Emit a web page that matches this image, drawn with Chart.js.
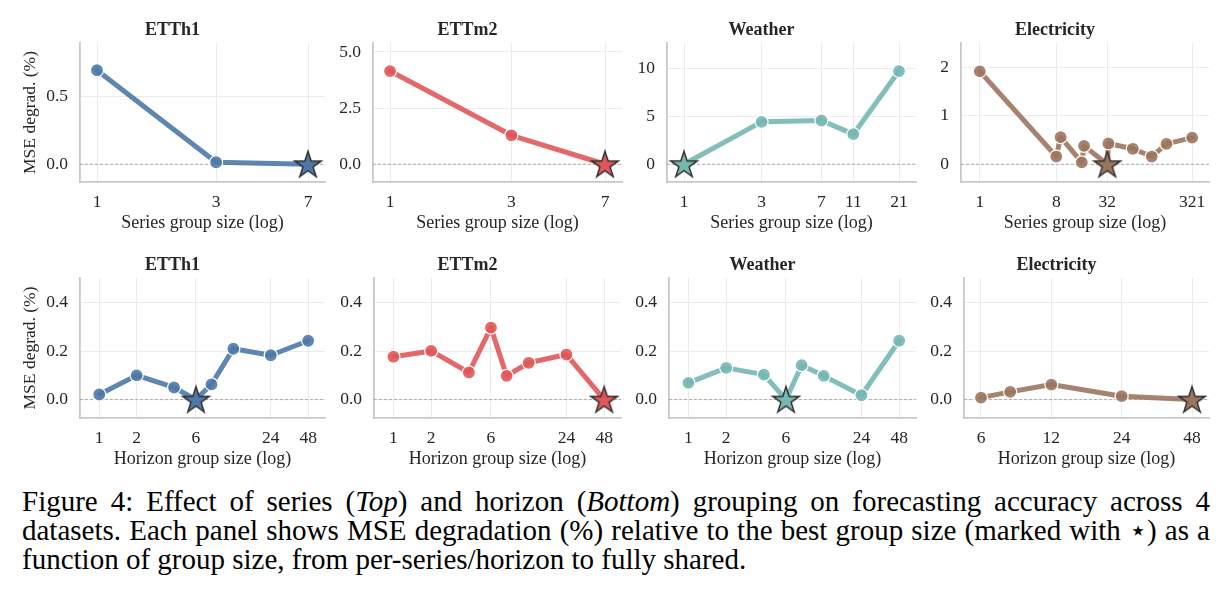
<!DOCTYPE html>
<html>
<head>
<meta charset="utf-8">
<script src="https://cdn.jsdelivr.net/npm/chart.js@4.4.1/dist/chart.umd.min.js"></script>
<style>
  body { margin: 0; background: #fff; width: 1231px; height: 601px; position: relative; overflow: hidden; font-family: "Liberation Serif", serif; }
  canvas { position: absolute; }
  #caption { position: absolute; left: 22px; top: 487px; width: 1188px; font-size: 29px; line-height: 29px; text-align: justify; color: #000; }
</style>
</head>
<body>
<div id="caption">Figure 4: Effect of series (<i>Top</i>) and horizon (<i>Bottom</i>) grouping on forecasting accuracy across 4 datasets. Each panel shows MSE degradation (%) relative to the best group size (marked with ⋆) as a function of group size, from per-series/horizon to fully shared.</div>
<script>
// top row: series group size vs MSE degradation (%)
const ettH1SeriesX = [1, 3, 7];
const ettH1SeriesY = [0.69, 0.015, 0];
const ettM2SeriesX = [1, 3, 7];
const ettM2SeriesY = [4.15, 1.29, 0];
const weatherSeriesX = [1, 3, 7, 11, 21];
const weatherSeriesY = [0, 4.44, 4.58, 3.15, 9.76];
const elecSeriesX = [1, 8, 9, 16, 17, 32, 33, 64, 107, 160, 321];
const elecSeriesY = [1.92, 0.16, 0.56, 0.04, 0.38, 0, 0.43, 0.32, 0.16, 0.42, 0.55];

// bottom row: horizon group size
const horizonX = [1, 2, 4, 6, 8, 12, 24, 48];
const ettH1HorizonY = [0.021, 0.10, 0.05, 0, 0.063, 0.21, 0.183, 0.243];
const ettM2HorizonY = [0.177, 0.201, 0.112, 0.297, 0.098, 0.152, 0.186, 0];
const weatherHorizonY = [0.069, 0.131, 0.103, 0, 0.142, 0.098, 0.018, 0.243];
const elecHorizonX = [6, 8, 12, 24, 48];
const elecHorizonY = [0.008, 0.032, 0.062, 0.014, 0];

// tick labels
const seriesTicksETT = [1, 3, 7];
const seriesTicksWeather = [1, 3, 7, 11, 21];
const seriesTicksElec = [1, 8, 32, 321];
const horizonTicks = [1, 2, 6, 24, 48];
const horizonTicksElec = [6, 12, 24, 48];
const yTicksETTh1 = [0, 0.5];
const yTicksETTm2 = [0, 2.5, 5];
const yTicksWeather = [0, 5, 10];
const yTicksElec = [0, 1, 2];
const yTicksHorizon = [0, 0.2, 0.4];

const color = {
  blue: '78,121,167',
  red: '225,87,89',
  teal: '118,183,178',
  brown: '156,117,95',
};

const FONT = 'Liberation Serif';
const TEXT = '#262626';

function makeStar(rgb) {
  const c = document.createElement('canvas');
  c.width = 32; c.height = 32;
  const g = c.getContext('2d');
  const R = 14, r = R * 0.382;
  g.beginPath();
  for (let i = 0; i < 10; i++) {
    const rad = i % 2 ? r : R;
    const a = -Math.PI / 2 + i * Math.PI / 5;
    const px = 16 + rad * Math.cos(a), py = 17 + rad * Math.sin(a);
    if (i == 0) g.moveTo(px, py); else g.lineTo(px, py);
  }
  g.closePath();
  g.fillStyle = 'rgb(' + rgb + ')';
  g.fill();
  g.lineWidth = 1.5;
  g.strokeStyle = '#333333';
  g.stroke();
  return c;
}

// dashed reference line at zero, drawn under the series
const zeroLine = {
  id: 'zeroLine',
  beforeDatasetsDraw(chart) {
    const {ctx, chartArea, scales} = chart;
    const py = scales.y.getPixelForValue(0);
    ctx.save();
    ctx.strokeStyle = '#9a9a9a';
    ctx.lineWidth = 0.8;
    ctx.setLineDash([3, 2]);
    ctx.beginPath();
    ctx.moveTo(chartArea.left, py);
    ctx.lineTo(chartArea.right, py);
    ctx.stroke();
    ctx.restore();
  }
};

function logLimits(first, last, w) {
  const m = 17 / (w - 34);
  const span = Math.log(last / first);
  return [first * Math.exp(-m * span), last * Math.exp(m * span)];
}

function makePanel(p) {
  const w = p.right - p.left, h = p.bottom - p.top;
  const cv = document.createElement('canvas');
  cv.width = w + 100;
  cv.height = h + 75;
  cv.style.left = (p.left - 80) + 'px';
  cv.style.top = (p.top - 23) + 'px';
  document.body.appendChild(cv);

  const best = p.ys.indexOf(Math.min(...p.ys));
  const star = makeStar(p.rgb);
  const lim = logLimits(p.xTicks[0], p.xTicks[p.xTicks.length - 1], w);

  new Chart(cv, {
    type: 'line',
    data: {
      datasets: [{
        data: p.xs.map((x, i) => ({x: x, y: p.ys[i]})),
        borderColor: 'rgba(' + p.rgb + ',0.9)',
        borderWidth: 5,
        borderJoinStyle: 'round',
        borderCapStyle: 'round',
        pointRadius: 6.5,
        pointBorderWidth: 1.2,
        pointBorderColor: '#ffffff',
        pointBackgroundColor: 'rgba(' + p.rgb + ',0.9)',
        pointStyle: ctx => ctx.dataIndex === best ? star : 'circle',
        tension: 0,
        clip: false,
      }]
    },
    options: {
      responsive: false,
      animation: false,
      devicePixelRatio: 1,
      layout: {padding: {left: 20, right: 20, top: 0, bottom: 0}},
      plugins: {
        legend: {display: false},
        tooltip: {enabled: false},
        title: {
          display: true,
          text: p.title,
          color: TEXT,
          font: {family: FONT, size: 18, weight: 'bold', lineHeight: 1.2},
          padding: {top: 0, bottom: 1.4},
        },
      },
      scales: {
        x: {
          type: 'logarithmic',
          min: lim[0],
          max: lim[1],
          afterBuildTicks: s => { s.ticks = p.xTicks.map(v => ({value: v})); },
          afterFit: s => { s.height = 52; },
          ticks: {
            autoSkip: false, maxRotation: 0, padding: 10, color: TEXT,
            font: {family: FONT, size: 17.5},
            callback: v => String(v),
          },
          grid: {color: '#ebebeb', lineWidth: 1, drawTicks: false},
          border: {display: true, color: '#c8c8c8', width: 1.8},
          title: {
            display: true, text: p.xLabel, color: TEXT,
            font: {family: FONT, size: 18, lineHeight: 1.2}, padding: 0,
          },
        },
        y: {
          min: p.yMin,
          max: p.yMax,
          afterBuildTicks: s => { s.ticks = p.yTicks.map(v => ({value: v})); },
          afterFit: s => { s.width = 60; },
          ticks: {
            padding: 12, color: TEXT,
            font: {family: FONT, size: 17.5},
            callback: v => v.toFixed(p.yDec),
          },
          grid: {color: '#ebebeb', lineWidth: 1, drawTicks: false},
          border: {display: true, color: '#c8c8c8', width: 1.8},
          title: {
            display: !!p.yLabel, text: p.yLabel || '', color: TEXT,
            font: {family: FONT, size: 17.5, lineHeight: 1.2}, padding: 0,
          },
        },
      },
    },
    plugins: [zeroLine],
  });
}

const topRow = {top: 43, bottom: 182, xLabel: 'Series group size (log)'};
const botRow = {top: 278, bottom: 418, xLabel: 'Horizon group size (log)',
                yMin: -0.076, yMax: 0.502, yTicks: yTicksHorizon, yDec: 1};

makePanel({...topRow, left: 80, right: 325, title: 'ETTh1', rgb: color.blue,
  xs: ettH1SeriesX, ys: ettH1SeriesY, xTicks: seriesTicksETT,
  yMin: -0.13, yMax: 0.89, yTicks: yTicksETTh1, yDec: 1, yLabel: 'MSE degrad. (%)'});
makePanel({...topRow, left: 373, right: 622, title: 'ETTm2', rgb: color.red,
  xs: ettM2SeriesX, ys: ettM2SeriesY, xTicks: seriesTicksETT,
  yMin: -0.79, yMax: 5.4, yTicks: yTicksETTm2, yDec: 1});
makePanel({...topRow, left: 667, right: 916, title: 'Weather', rgb: color.teal,
  xs: weatherSeriesX, ys: weatherSeriesY, xTicks: seriesTicksWeather,
  yMin: -1.86, yMax: 12.7, yTicks: yTicksWeather, yDec: 0});
makePanel({...topRow, left: 961, right: 1209, title: 'Electricity', rgb: color.brown,
  xs: elecSeriesX, ys: elecSeriesY, xTicks: seriesTicksElec,
  yMin: -0.366, yMax: 2.505, yTicks: yTicksElec, yDec: 0});

makePanel({...botRow, left: 80, right: 325, title: 'ETTh1', rgb: color.blue,
  xs: horizonX, ys: ettH1HorizonY, xTicks: horizonTicks, yLabel: 'MSE degrad. (%)'});
makePanel({...botRow, left: 374, right: 621, title: 'ETTm2', rgb: color.red,
  xs: horizonX, ys: ettM2HorizonY, xTicks: horizonTicks});
makePanel({...botRow, left: 669, right: 916, title: 'Weather', rgb: color.teal,
  xs: horizonX, ys: weatherHorizonY, xTicks: horizonTicks});
makePanel({...botRow, left: 964, right: 1209, title: 'Electricity', rgb: color.brown,
  xs: elecHorizonX, ys: elecHorizonY, xTicks: horizonTicksElec});
</script>
</body>
</html>
